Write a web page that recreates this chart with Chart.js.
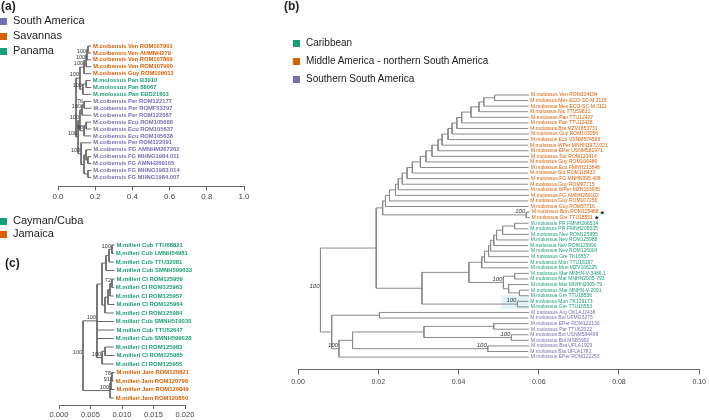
<!DOCTYPE html>
<html>
<head>
<meta charset="utf-8">
<script src="https://cdn.jsdelivr.net/npm/chart.js@4.4.1/dist/chart.umd.min.js"></script>
<style>
  body { margin: 0; background: #fff; }
  #wrap { position: relative; width: 709px; height: 420px; font-family: 'Liberation Sans', Arial, sans-serif; color: #222; }
  #wrap canvas { position: absolute; left: 0; top: 0; }
  .tag { position: absolute; font-weight: bold; font-size: 12px; line-height: 12px; }
  .key { position: absolute; font-size: 11px; line-height: 12px; white-space: nowrap; }
  .key i { display: inline-block; width: 7px; height: 7px; margin-right: 6px; vertical-align: -1px; }
</style>
</head>
<body>
<div id="wrap">
  <canvas id="treeA" width="709" height="420"></canvas>
  <canvas id="treeB" width="709" height="420"></canvas>
  <canvas id="treeC" width="709" height="420"></canvas>

  <div class="tag" style="left:1px;top:0px">(a)</div>
  <div class="key" style="left:0px;top:14px"><i style="background:#7570B3"></i>South America</div>
  <div class="key" style="left:0px;top:29px"><i style="background:#D95F02"></i>Savannas</div>
  <div class="key" style="left:0px;top:44px"><i style="background:#1B9E77"></i>Panama</div>

  <div class="tag" style="left:284px;top:0px">(b)</div>
  <div class="key" style="left:293px;top:37px;font-size:10px"><i style="background:#1B9E77"></i>Caribbean</div>
  <div class="key" style="left:293px;top:55px;font-size:10px"><i style="background:#D95F02"></i>Middle America - northern South America</div>
  <div class="key" style="left:293px;top:73px;font-size:10px"><i style="background:#7570B3"></i>Southern South America</div>

  <div class="key" style="left:0px;top:214px"><i style="background:#1B9E77"></i>Cayman/Cuba</div>
  <div class="key" style="left:0px;top:227px"><i style="background:#D95F02"></i>Jamaica</div>
  <div class="tag" style="left:5px;top:257px">(c)</div>
</div>

<script>
// ---------- panel (a): M. coibensis / M. molossus (Panama) ----------
const aRegions = ['South America', 'Savannas', 'Panama'];
const aTips = [
  'M.coibensis Ven ROM107901', 'M.coibensis Ven AUMNH279', 'M.coibensis Ven ROM107869',
  'M.coibensis Ven ROM107900', 'M.coibensis Guy ROM109012',
  'M.molossus Pan B3910', 'M.molossus Pan 88067', 'M.molossus Pan EBD21603',
  'M.coibensis Per ROM122177', 'M.coibensis Per ROMF53797', 'M.coibensis Per ROM122087',
  'M.coibensis Ecu ROM105688', 'M.coibensis Ecu ROM105637', 'M.coibensis Ecu ROM105638',
  'M.coibensis Per ROM122091', 'M.coibensis FG AMNHM267262', 'M.coibensis FG MHNG1984.011',
  'M.coibensis FG AMNH269105', 'M.coibensis FG MHNG1983.014', 'M.coibensis FG MHNG1984.007'
];
const aTipRegion = [1, 1, 1, 1, 1, 2, 2, 2, 0, 0, 0, 0, 0, 0, 0, 0, 0, 0, 0, 0];
const aTipX = [0.178, 0.177, 0.178, 0.179, 0.178, 0.176, 0.177, 0.178, 0.179, 0.18,
  0.179, 0.178, 0.179, 0.178, 0.179, 0.18, 0.179, 0.178, 0.179, 0.178];
// [depth, children (tip index or 'n'+node index), support]
const aNodes = [
  [0.161, [0, 1], ''], [0.156, ['n0', 2], '100'], [0.151, ['n1', 3], '100'],
  [0.140, ['n2', 4], '100'], [0.151, [5, 6], ''], [0.134, ['n4', 7], '100'],
  [0.118, ['n3', 'n5'], '100'], [0.140, [8, 9], '76'], [0.129, ['n7', 10], '100'],
  [0.151, [11, 12], ''], [0.140, ['n9', 13], '98'], [0.118, ['n8', 'n10'], '100'],
  [0.161, [16, 17], ''], [0.161, [18, 19], ''], [0.151, [15, 'n12'], ''],
  [0.140, ['n14', 'n13'], ''], [0.124, [14, 'n15'], '100'], [0.108, ['n11', 'n16'], '100'],
  [0.097, ['n6', 'n17'], '']
];
const aTicks = [0, 0.2, 0.4, 0.6, 0.8, 1.0];

// ---------- panel (b): M. molossus ----------
const bRegions = ['Caribbean', 'Middle America - northern South America', 'Southern South America'];
const bTips = [
  'M.molossus Ven ROM104194', 'M.molossus Mex ECO-SC-M 3115', 'M.molossus Mex ECO-SC-M 3111',
  'M.molossus Nic TTU59631', 'M.molossus Pan TTU12427', 'M.molossus Pan TTU12428',
  'M.molossus Bra MZV1853731', 'M.molossus Guy ROM103056', 'M.molossus Ecu USNM574566',
  'M.molossus WPer MNHN1972.021', 'M.molossus EPer USNM581971', 'M.molossus Sur ROM120414',
  'M.molossus Guy ROM106486', 'M.molossus Ecu FMNH213848', 'M.molossus Sur ROM118433',
  'M.molossus FG MNHN995.408', 'M.molossus Guy ROM97715', 'M.molossus WPer MZH163935',
  'M.molossus FG AMNH269102', 'M.molossus Guy ROM107256', 'M.molossus Guy ROM97716',
  'M.molossus Bon ROM125468', 'M.molossus Gre TTU18551',
  'M.molossus PR FMNH206534', 'M.molossus PR FMNH206535', 'M.molossus Nev ROM125995',
  'M.molossus Nev ROM125988', 'M.molossus Nev ROM125990', 'M.molossus Nev ROM126004',
  'M.molossus Gre TK16557', 'M.molossus Mon TTU18197', 'M.molossus Mon MZV166225',
  'M.molossus Mar MNHN-V-3486.1', 'M.molossus Mar MNHN2005-793', 'M.molossus Mar MNHN2005-79',
  'M.molossus Mar MNHN-V-2091', 'M.molossus Gre TTU18556', 'M.molossus Mon TK129173',
  'M.molossus Gre TTU18553',
  'M.molossus Arg OKLAJ2438', 'M.molossus Bol UFMG5275', 'M.molossus EPer ROM122130',
  'M.molossus Par TTU62022', 'M.molossus Bol USNM584499', 'M.molossus Bol MSB5992',
  'M.molossus Bra UFLA1929', 'M.molossus Bra UFLA1781', 'M.molossus EPer ROM122253'
];
const bTipRegion = [
  1, 1, 1, 1, 1, 1, 1, 1, 1, 1, 1, 1, 1, 1, 1, 1, 1, 1, 1, 1, 1, 1, 1,
  0, 0, 0, 0, 0, 0, 0, 0, 0, 0, 0, 0, 0, 0, 0, 0,
  2, 2, 2, 2, 2, 2, 2, 2, 2
];
const bStarred = [21, 22];
const bTipX = [
  0.0576, 0.0574, 0.0575, 0.0573, 0.0576, 0.0575, 0.0574, 0.0576, 0.0575, 0.0573,
  0.0575, 0.0576, 0.0574, 0.0575, 0.0573, 0.0576, 0.0574, 0.0575, 0.0576, 0.0574,
  0.0575, 0.0578, 0.0577,
  0.0575, 0.0574, 0.0576, 0.0575, 0.0573, 0.0575, 0.0576, 0.0574, 0.0575, 0.0576,
  0.0574, 0.0575, 0.0576, 0.0575, 0.0574, 0.0575,
  0.0576, 0.0574, 0.0575, 0.0576, 0.0574, 0.0575, 0.0576, 0.0574, 0.0575
];
const bNodes = [
  [0.0490, [0, 1], ''], [0.0463, ['n0', 2], ''], [0.0451, ['n1', 3], ''],
  [0.0431, ['n2', 4], ''], [0.0408, ['n3', 5], ''], [0.0396, ['n4', 6], ''],
  [0.0384, ['n5', 7], ''], [0.0374, ['n6', 8], ''], [0.0359, ['n7', 9], ''],
  [0.0349, ['n8', 10], ''], [0.0334, ['n9', 11], ''], [0.0319, ['n10', 12], ''],
  [0.0305, ['n11', 13], ''], [0.0285, ['n12', 14], ''], [0.0272, ['n13', 15], ''],
  [0.0260, ['n14', 16], ''], [0.0250, ['n15', 17], ''], [0.0243, ['n16', 18], ''],
  [0.0228, ['n17', 19], ''], [0.0218, ['n18', 20], ''],
  [0.0569, [21, 22], '100'], [0.0211, ['n19', 'n20'], ''],
  [0.0540, [23, 24], ''], [0.0510, ['n22', 25], ''], [0.0495, ['n23', 26], ''],
  [0.0488, ['n24', 27], ''], [0.0480, ['n25', 28], ''], [0.0475, ['n26', 29], ''],
  [0.0465, ['n27', 30], ''], [0.0458, ['n28', 31], ''],
  [0.0540, [32, 33], ''], [0.0552, [35, 36], ''], [0.0525, [34, 'n31'], ''],
  [0.0512, ['n30', 'n32'], '100'], [0.0426, ['n29', 'n33'], ''],
  [0.0547, [37, 38], '100'], [0.0309, ['n34', 'n35'], ''], [0.0195, ['n21', 'n36'], ''],
  [0.0203, [39, 40], ''], [0.0488, [41, 42], ''], [0.0532, [43, 44], '100'],
  [0.0314, ['n39', 'n40'], ''], [0.0473, [45, 46], '100'], [0.0136, ['n41', 'n42'], ''],
  [0.0102, ['n43', 47], '100'], [0.0084, ['n38', 'n44'], ''], [0.0056, ['n37', 'n45'], '100']
];
const bTicks = [0, 0.02, 0.04, 0.06, 0.08, 0.10];

// ---------- panel (c): M. milleri ----------
const cRegions = ['Cayman/Cuba', 'Jamaica'];
const cTips = [
  'M.milleri Cub TTU68821', 'M.milleri Cub LMNH54981', 'M.milleri Cub TTU32081',
  'M.milleri Cub SMNH599033', 'M.milleri CI ROM125959', 'M.milleri CI ROM125963',
  'M.milleri CI ROM125957', 'M.milleri CI ROM125964', 'M.milleri CI ROM125984',
  'M.milleri Cub SMNH519030', 'M.milleri Cub TTU52647', 'M.milleri Cub SMNH599028',
  'M.milleri CI ROM125983', 'M.milleri CI ROM125985', 'M.milleri CI ROM125955',
  'M.milleri Jam ROM120821', 'M.milleri Jam ROM120796', 'M.milleri Jam ROM120849',
  'M.milleri Jam ROM120850'
];
const cTipRegion = [0, 0, 0, 0, 0, 0, 0, 0, 0, 0, 0, 0, 0, 0, 0, 1, 1, 1, 1];
const cTipX = [0.0088, 0.0087, 0.0087, 0.0088, 0.0088, 0.0087, 0.0087, 0.0088, 0.0087,
  0.0087, 0.0088, 0.0087, 0.0087, 0.0088, 0.0087, 0.0088, 0.0087, 0.0088, 0.0087];
const cNodes = [
  [0.00841, [0, 1], '100'], [0.00794, ['n0', 2], ''], [0.00746, ['n1', 3], ''],
  [0.00841, [4, 5], '72'], [0.0081, ['n3', 6], ''], [0.00778, ['n4', 7], ''],
  [0.0073, ['n5', 8], ''], [0.00683, ['n2', 'n6'], ''],
  [0.0073, [12, 13], ''], [0.00683, ['n8', 14], '100'],
  [0.00603, ['n7', 9, 10, 11, 'n9'], '100'],
  [0.00841, [15, 16], '78'], [0.00825, ['n11', 17], '91'], [0.0081, ['n12', 18], '100'],
  [0.00381, ['n10', 'n13'], '100']
];
const cTicks = [0, 0.005, 0.01, 0.015, 0.02];

const FONT = "'Liberation Sans', Arial, sans-serif";

/**
 * Turns tips + nodes into node positions and a list of line segments
 * (nulls break the line between segments)
 */
function buildTree (tipX, nodes) {
  const done = {};
  function place (ref) {
    if (typeof ref === 'number') return { x: tipX[ref], y: ref };
    const k = +ref.slice(1);
    if (done[k]) return done[k];
    const kids = nodes[k][1].map(place);
    const ys = kids.map(c => c.y);
    done[k] = {
      x: nodes[k][0],
      y: (kids[0].y + kids[kids.length - 1].y) / 2,
      top: Math.min(...ys),
      bot: Math.max(...ys),
      kids: kids,
      bs: nodes[k][2]
    };
    return done[k];
  }
  const placed = nodes.map((n, k) => place('n' + k));
  const pts = [];
  placed.forEach(p => {
    pts.push({ x: p.x, y: p.top }, { x: p.x, y: p.bot }, { x: null, y: null });
    p.kids.forEach(c => pts.push({ x: p.x, y: c.y }, { x: c.x, y: c.y }, { x: null, y: null }));
  });
  return { pts: pts, nodes: placed };
}

/**
 * Plugin that writes tip names and support values at data positions
 */
function labelPlugin (tips, tipX, tipRegion, colors, tree, opt) {
  return {
    id: 'tipLabels',
    beforeDatasetsDraw (chart) {
      if (!opt.box) return;
      const xs = chart.scales.x;
      const ys = chart.scales.y;
      const ctx = chart.ctx;
      const b = opt.box;
      ctx.save();
      ctx.fillStyle = b.color;
      const x0 = xs.getPixelForValue(b.x0);
      const x1 = xs.getPixelForValue(b.x1);
      const y0 = ys.getPixelForValue(b.y0);
      const y1 = ys.getPixelForValue(b.y1);
      ctx.fillRect(x0, y0, x1 - x0, y1 - y0);
      ctx.restore();
    },
    afterDatasetsDraw (chart) {
      const xs = chart.scales.x;
      const ys = chart.scales.y;
      const ctx = chart.ctx;
      ctx.save();
      ctx.textBaseline = 'middle';
      ctx.textAlign = 'left';
      tips.forEach((name, i) => {
        const px = xs.getPixelForValue(tipX[i]) + 2;
        const py = ys.getPixelForValue(i);
        ctx.font = opt.tipFont;
        ctx.fillStyle = colors[tipRegion[i]];
        ctx.fillText(name, px, py);
        if (opt.starred && opt.starred.indexOf(i) !== -1) {
          const w = ctx.measureText(name).width;
          ctx.fillStyle = '#111';
          ctx.font = 'bold 9px ' + FONT;
          ctx.fillText('*', px + w + 2, py + 2);
        }
      });
      ctx.font = opt.bsFont;
      ctx.fillStyle = '#333';
      ctx.textAlign = 'right';
      ctx.textBaseline = 'bottom';
      tree.nodes.forEach(n => {
        if (!n.bs) return;
        ctx.fillText(n.bs, xs.getPixelForValue(n.x) - 1, ys.getPixelForValue(n.y) - 0.5);
      });
      ctx.restore();
    }
  };
}

function axisOpts (min, max, ticks, digits, size, tickLen, pad) {
  return {
    type: 'linear',
    position: 'bottom',
    min: min,
    max: max,
    afterBuildTicks: axis => { axis.ticks = ticks.map(v => ({ value: v })); },
    ticks: {
      callback: v => Number(v).toFixed(digits),
      font: { size: size, family: FONT },
      color: '#444',
      padding: pad,
      maxRotation: 0,
      autoSkip: false
    },
    grid: { display: true, drawOnChartArea: false, drawTicks: true, tickLength: tickLen, color: '#666' },
    border: { display: true, color: '#666', width: 1 }
  };
}

function drawTree (id, tips, tipX, tipRegion, nodes, colors, lineColor, layoutPad, yMax, xAxis, opt) {
  const tree = buildTree(tipX, nodes);
  return new Chart(document.getElementById(id), {
    type: 'scatter',
    data: {
      datasets: [{
        data: tree.pts,
        showLine: true,
        spanGaps: false,
        borderColor: lineColor,
        borderWidth: 1,
        pointRadius: 0,
        pointHoverRadius: 0,
        tension: 0,
        clip: false
      }]
    },
    options: {
      responsive: false,
      animation: false,
      events: [],
      layout: { padding: layoutPad },
      plugins: { legend: { display: false }, tooltip: { enabled: false } },
      scales: {
        x: xAxis,
        y: { display: false, reverse: true, min: 0, max: yMax }
      }
    },
    plugins: [labelPlugin(tips, tipX, tipRegion, colors, tree, opt)]
  });
}

const dark2 = { green: '#1B9E77', orange: '#D95F02', purple: '#7570B3' };

drawTree('treeA', aTips, aTipX, aTipRegion, aNodes,
  [dark2.purple, dark2.orange, dark2.green], '#666',
  { left: 58, right: 709 - 244, top: 46, bottom: 216 }, 20.3,
  axisOpts(0, 1, aTicks, 1, 8, 4, 2),
  { tipFont: 'bold 5.8px ' + FONT, bsFont: '5.5px ' + FONT });

drawTree('treeB', bTips, bTipX, bTipRegion, bNodes,
  [dark2.green, dark2.orange, dark2.purple], '#8a8a8a',
  { left: 298, right: 7, top: 95, bottom: 31 }, 49.25,
  axisOpts(0, 0.1, bTicks, 2, 7, 5, 3),
  {
    tipFont: '5px ' + FONT,
    bsFont: 'italic 6px ' + FONT,
    starred: bStarred,
    box: { x0: 0.0507, x1: 0.0576, y0: 35.9, y1: 38.4, color: '#e2f3f8' }
  });

drawTree('treeC', cTips, cTipX, cTipRegion, cNodes,
  [dark2.green, dark2.orange], '#666',
  { left: 59, right: 709 - 185, top: 245, bottom: 0 }, 18.82,
  axisOpts(0, 0.02, cTicks, 3, 7.5, 4, 1),
  { tipFont: 'bold 5.9px ' + FONT, bsFont: '5.5px ' + FONT });
</script>
</body>
</html>
